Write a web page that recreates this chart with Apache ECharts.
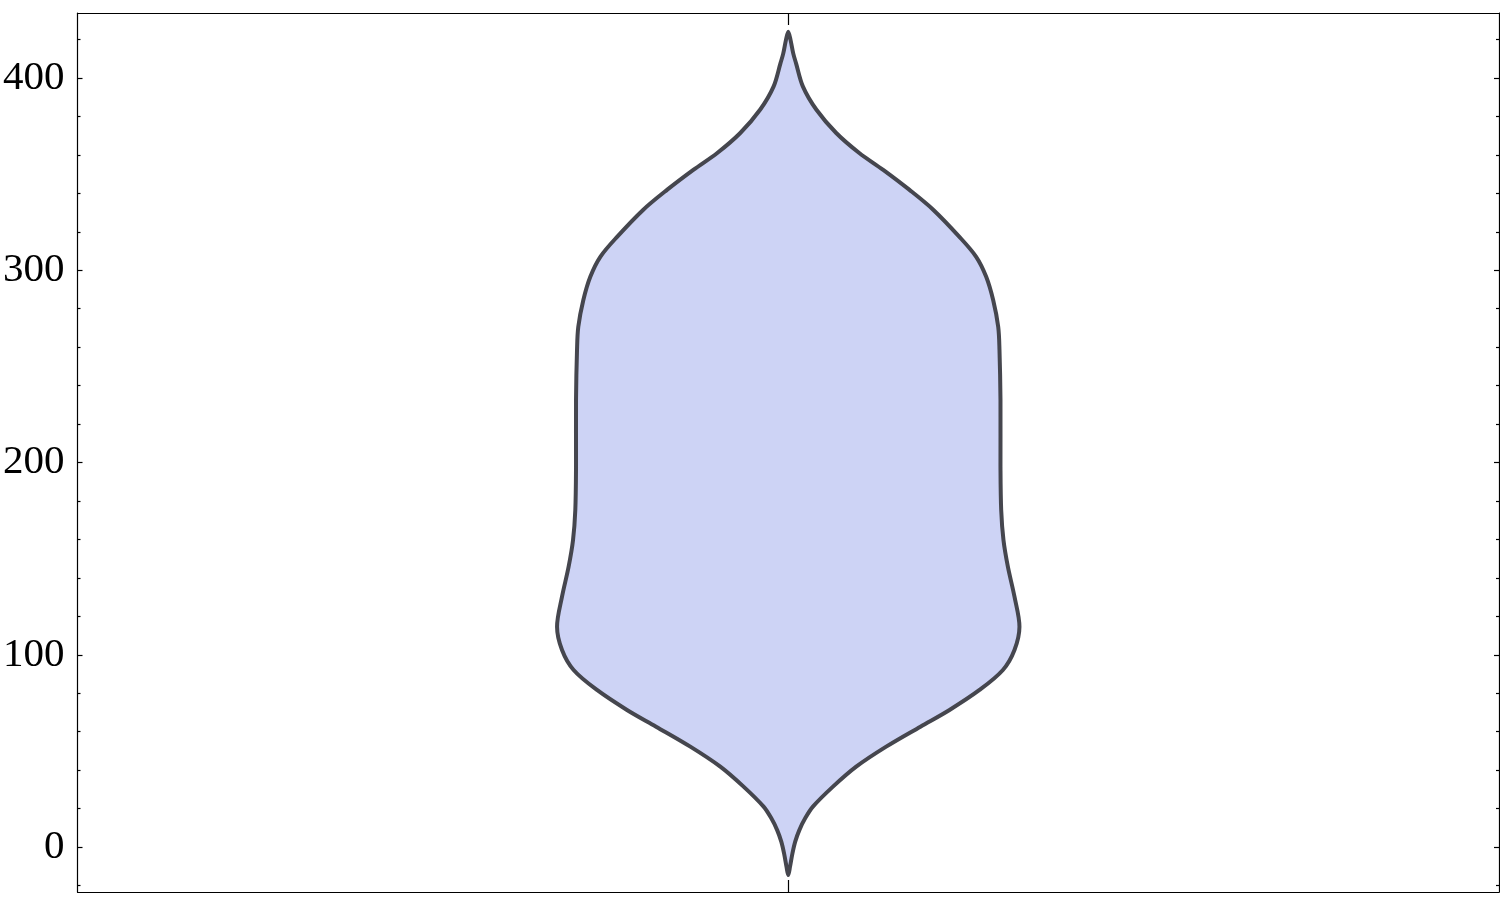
<!DOCTYPE html>
<html><head><meta charset="utf-8">
<script src="https://cdn.jsdelivr.net/npm/echarts@6/dist/echarts.min.js"></script>
<style>html,body{margin:0;padding:0;background:#fff}#c{width:1500px;height:909px}</style>
</head><body><div id="c"></div>
<script>
// Violin outline: y values (top to bottom) and half-widths (density, x-axis units)
const yValues = [424.1, 419.8, 412.8, 407.6, 395.5, 383.6, 371.4, 361.0, 352.2, 341.9, 331.5, 317.5, 307.0, 296.6, 284.5, 270.6, 258.5, 232.5, 197.8, 175.3, 159.7, 145.8, 130.2, 114.6, 102.5, 92.1, 81.7, 71.3, 62.6, 52.2, 41.8, 31.4, 21.0, 14.9, 8.8, 2.8, -3.3, -10.2, -14.6];
const halfWidths = [0, 0.0032, 0.0070, 0.0110, 0.0207, 0.0394, 0.0675, 0.0999, 0.1336, 0.1702, 0.2039, 0.2405, 0.2644, 0.2785, 0.2883, 0.2954, 0.2972, 0.2986, 0.2986, 0.2996, 0.3028, 0.3090, 0.3183, 0.3253, 0.3183, 0.3020, 0.2691, 0.2269, 0.1860, 0.1378, 0.0956, 0.0629, 0.0347, 0.0238, 0.0156, 0.0098, 0.0059, 0.0025, 0];
const yMajorTicks = [0, 100, 200, 300, 400];
const yMinorTicks = [-20, 20, 40, 60, 80, 120, 140, 160, 180, 220, 240, 260, 280, 320, 340, 360, 380, 420];
const xTicks = [0];
const yRange = [-23.4, 433.8];
const xRange = [-1, 1];

const chart = echarts.init(document.getElementById('c'), null, {renderer: 'canvas'});
const lineStyle = {color: '#000', width: 1.2};
function yAx(pos, ticks, len, labels, line) {
  return {
    type: 'value', position: pos, min: yRange[0], max: yRange[1],
    axisLine: {show: line, onZero: false, lineStyle: lineStyle},
    axisTick: {show: true, inside: true, length: len, customValues: ticks, lineStyle: lineStyle},
    axisLabel: labels ? {show: true, customValues: yMajorTicks, fontFamily: 'Liberation Serif', fontSize: 41, color: '#000', margin: 13} : {show: false},
    splitLine: {show: false}
  };
}
function xAx(pos) {
  return {
    type: 'value', position: pos, min: xRange[0], max: xRange[1],
    axisLine: {show: true, onZero: false, lineStyle: lineStyle},
    axisTick: {show: true, inside: true, length: 12, customValues: xTicks, lineStyle: lineStyle},
    axisLabel: {show: false},
    splitLine: {show: false}
  };
}
chart.setOption({
  animation: false,
  backgroundColor: '#fff',
  grid: {left: 76, right: 1, top: 13, bottom: 17, containLabel: false},
  xAxis: [xAx('bottom'), xAx('top')],
  yAxis: [
    yAx('left', yMajorTicks, 5, true, true),
    yAx('left', yMinorTicks, 3, false, false),
    yAx('right', yMajorTicks, 5, false, true),
    yAx('right', yMinorTicks, 3, false, false)
  ],
  series: [{
    type: 'custom',
    xAxisIndex: 0, yAxisIndex: 0,
    data: yValues.map((y, i) => [halfWidths[i], y]),
    renderItem: function (params, api) {
      if (params.dataIndex !== 0) return;
      const pts = [];
      for (let i = 0; i < yValues.length; i++) pts.push(api.coord([-halfWidths[i], yValues[i]]));
      for (let i = yValues.length - 2; i > 0; i--) pts.push(api.coord([halfWidths[i], yValues[i]]));
      return {
        type: 'polygon',
        shape: {points: pts, smooth: 0.33},
        style: {fill: '#cdd3f5', stroke: '#45464e', lineWidth: 4, lineJoin: 'round'}
      };
    }
  }]
});
</script>
</body></html>
